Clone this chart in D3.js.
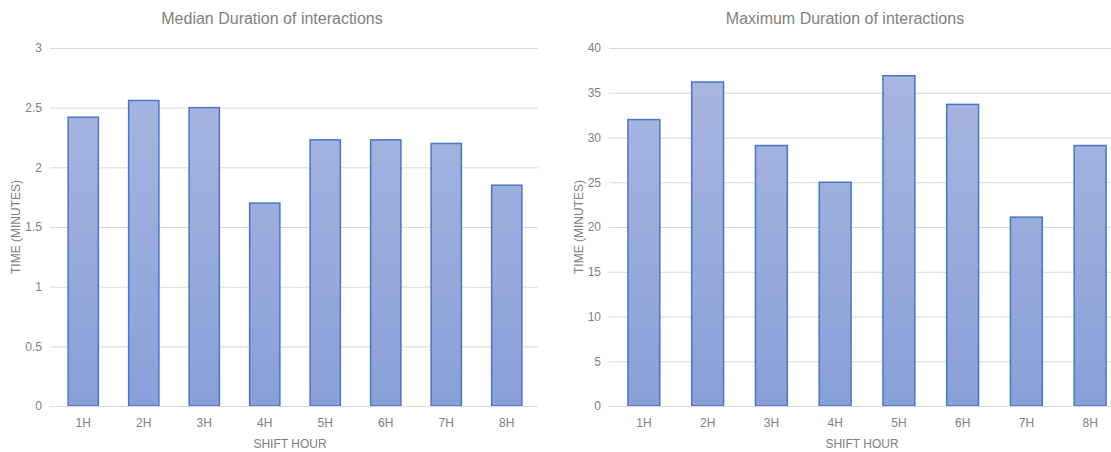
<!DOCTYPE html>
<html>
<head>
<meta charset="utf-8">
<script src="https://cdn.jsdelivr.net/npm/d3@7"></script>
<style>
  html, body { margin: 0; padding: 0; background: #fff; }
  svg { display: block; font-family: "Liberation Sans", Arial, sans-serif; }
</style>
</head>
<body>
<svg id="chart" width="1111" height="452"></svg>
<script>
// Shift hours shared by both panels
const hours = ["1H", "2H", "3H", "4H", "5H", "6H", "7H", "8H"];

// Median and maximum interaction durations, in minutes
const medianDuration = [2.42, 2.56, 2.5, 1.7, 2.23, 2.23, 2.2, 1.85];
const maxDuration = [32, 36.2, 29.1, 25, 36.9, 33.7, 21.1, 29.1];

// Y-axis ticks for each panel
const medianTicks = [0, 0.5, 1, 1.5, 2, 2.5, 3];
const maxTicks = [0, 5, 10, 15, 20, 25, 30, 35, 40];

const svg = d3.select("#chart");

// Vertical gradient used for the bar fill
const defs = svg.append("defs");
const grad = defs.append("linearGradient")
  .attr("id", "barFill")
  .attr("x1", 0).attr("y1", 0).attr("x2", 0).attr("y2", 1)
  .attr("gradientUnits", "userSpaceOnUse");

function panel(opts) {
  const { title, values, ticks, left, right, top, bottom, titleX, axisTitleX, id } = opts;

  const g = svg.append("g");

  const x = d3.scaleBand().domain(hours).range([left, right]).paddingInner(0.5).paddingOuter(0.25);
  const y = d3.scaleLinear().domain([ticks[0], ticks[ticks.length - 1]]).range([bottom, top]);

  const gradId = "fill-" + id;
  const gr = defs.append("linearGradient")
    .attr("id", gradId)
    .attr("gradientUnits", "userSpaceOnUse")
    .attr("x1", 0).attr("x2", 0)
    .attr("y1", top).attr("y2", bottom);
  gr.append("stop").attr("offset", 0).attr("stop-color", "#abb9e1");
  gr.append("stop").attr("offset", 1).attr("stop-color", "#889fd8");

  // Horizontal gridlines
  const yAxis = d3.axisLeft(y)
    .tickValues(ticks)
    .tickSize(-(opts.gridRight - opts.gridLeft))
    .tickPadding(8)
    .tickFormat(d3.format("~g"));

  const ya = g.append("g")
    .attr("transform", `translate(${opts.gridLeft},0)`)
    .call(yAxis);
  ya.select(".domain").remove();
  ya.selectAll(".tick line").attr("stroke", "#d9d9d9").attr("stroke-width", 1);
  ya.selectAll(".tick text")
    .attr("fill", "#7f7f7f")
    .attr("font-size", 12);

  // Bars
  g.selectAll("rect.bar")
    .data(values)
    .join("rect")
    .attr("class", "bar")
    .attr("x", (d, i) => x(hours[i]))
    .attr("width", x.bandwidth())
    .attr("y", d => y(d))
    .attr("height", d => y(0) - y(d))
    .attr("fill", `url(#${gradId})`)
    .attr("stroke", "#4a74c8")
    .attr("stroke-width", 1.5);

  // Baseline
  g.append("line")
    .attr("x1", opts.gridLeft).attr("x2", opts.gridRight)
    .attr("y1", y(0) + 0.5).attr("y2", y(0) + 0.5)
    .attr("stroke", "#d9d9d9");

  // Category labels
  const xAxis = d3.axisBottom(x).tickSize(0).tickPadding(12);
  const xa = g.append("g").attr("transform", `translate(0,${bottom})`).call(xAxis);
  xa.select(".domain").remove();
  xa.selectAll(".tick text").attr("fill", "#7f7f7f").attr("font-size", 12);

  // Axis titles
  g.append("text")
    .attr("x", (left + right) / 2 - 5)
    .attr("y", 448)
    .attr("text-anchor", "middle")
    .attr("fill", "#7f7f7f")
    .attr("font-size", 12)
    .text("SHIFT HOUR");

  g.append("text")
    .attr("transform", `translate(${axisTitleX},${(top + bottom) / 2}) rotate(-90)`)
    .attr("text-anchor", "middle")
    .attr("dy", "0.35em")
    .attr("fill", "#7f7f7f")
    .attr("font-size", 12)
    .text("TIME (MINUTES)");

  // Chart title
  g.append("text")
    .attr("x", titleX)
    .attr("y", 24)
    .attr("text-anchor", "middle")
    .attr("fill", "#7f7f7f")
    .attr("font-size", 16)
    .text(title);
}

panel({
  id: "median",
  title: "Median Duration of interactions",
  values: medianDuration,
  ticks: medianTicks,
  left: 53, right: 537,
  gridLeft: 50, gridRight: 538,
  top: 48, bottom: 406,
  titleX: 272,
  axisTitleX: 16
});

panel({
  id: "max",
  title: "Maximum Duration of interactions",
  values: maxDuration,
  ticks: maxTicks,
  left: 612, right: 1122,
  gridLeft: 609, gridRight: 1125,
  top: 48, bottom: 406,
  titleX: 845,
  axisTitleX: 579
});
</script>
</body>
</html>
